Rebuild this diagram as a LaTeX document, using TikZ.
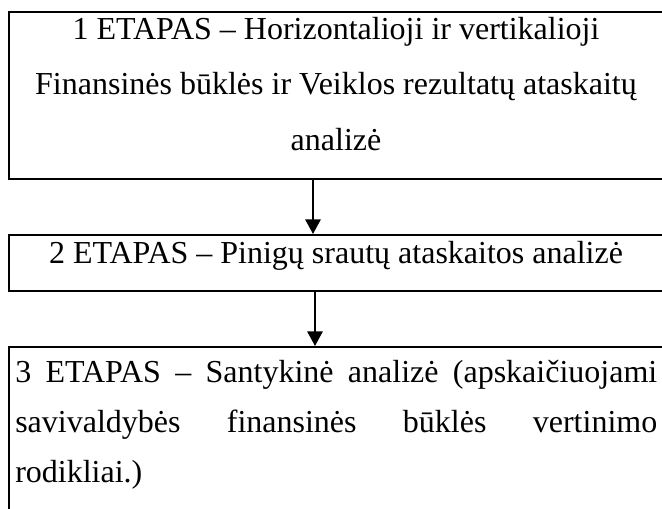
\documentclass[tikz,border=0pt]{standalone}
\usepackage{fontspec}
\setmainfont{Liberation Serif}
\usetikzlibrary{arrows.meta}
\tikzset{
  boxshape/.style={draw=black, line width=1.5pt, rectangle, inner sep=0pt},
  txt/.style={inner sep=0pt, font=\fontsize{24pt}{41pt}\selectfont},
  arr/.style={line width=1.5pt, -{Triangle[width=11.5pt,length=11pt]}}
}
\begin{document}
\begin{tikzpicture}[x=0.75pt,y=-0.75pt]
\useasboundingbox (0,0) rectangle (662,509);
\clip (0,0) rectangle (662,509);
\fill[white] (0,0) rectangle (662,509);
% boxes
\node[boxshape, minimum width=490.5pt, minimum height=125.25pt] (b1) at (336,95.5) {};
\node[boxshape, minimum width=490.5pt, minimum height=42pt] (b2) at (336,263) {};
\node[boxshape, minimum width=490.5pt, minimum height=144.75pt] (b3) at (336,443.5) {};
% box 1 text
\node[txt, anchor=base] (t11) at (336,40) {1 ETAPAS – Horizontalioji ir vertikalioji};
\node[txt, anchor=base] (t12) at (336,95) {Finansinės būklės ir Veiklos rezultatų ataskaitų};
\node[txt, anchor=base] (t13) at (336,151) {analizė};
% box 2 text
\node[txt, anchor=base] (t21) at (336,264) {2 ETAPAS – Pinigų srautų ataskaitos analizė};
% box 3 text
\node[txt, anchor=base west] (t31) at (15,383) {\makebox[481.5pt][s]{3 ETAPAS – Santykinė analizė (apskaičiuojami}};
\node[txt, anchor=base west] (t32) at (15,433) {\makebox[481.5pt][s]{savivaldybės finansinės būklės vertinimo}};
\node[txt, anchor=base west] (t33) at (15,483) {rodikliai.)};
% arrows
\coordinate (x1) at (313,0);
\coordinate (x2) at (315,0);
\draw[arr] (b1.south -| x1) -- (b2.north -| x1);
\draw[arr] (b2.south -| x2) -- (b3.north -| x2);
\end{tikzpicture}
\end{document}
